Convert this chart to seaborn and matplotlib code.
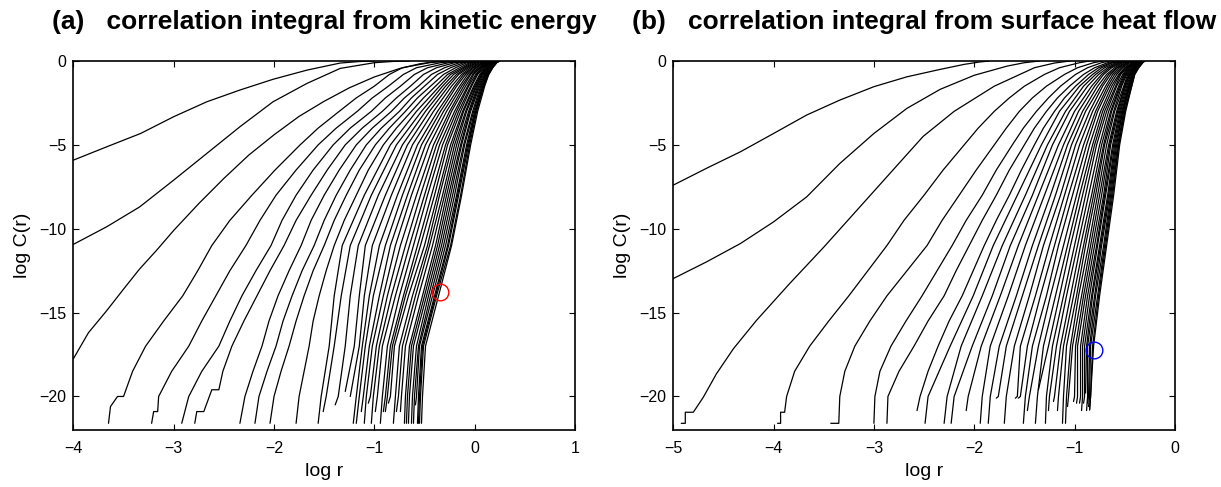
import numpy as np
import pandas as pd
import matplotlib
matplotlib.use("Agg")
import matplotlib.pyplot as plt
import seaborn as sns

nan = np.nan

# log C(r) levels at which the crossing log r of the curves is tabulated
LEVELS = [0.0, -0.1, -0.4, -0.8, -1.5, -2.2, -3.0, -4.0, -5.0, -6.5, -8.0, -9.5,
          -11.0, -12.5, -14.0, -15.5, -17.0, -18.5, -20.0]

# ---------------- (a) kinetic energy, embedding dimensions 1..40 ----------------
ke_at_0 = [-1.00, -0.65, -0.40, -0.25, -0.15, -0.08, -0.03, 0.01, 0.04, 0.07, 0.09,
           0.10, 0.11, 0.12, 0.13, 0.14, 0.15, 0.16, 0.17, 0.18, 0.18, 0.19, 0.19, 0.20, 0.20,
           0.21, 0.21, 0.22, 0.22, 0.22, 0.23, 0.23, 0.23, 0.24, 0.24, 0.24, 0.24, 0.25, 0.25, 0.25]
ke_at_0p1 = [-1.34, -0.95, -0.62, -0.45, -0.34, -0.26, -0.20, -0.15, -0.11, -0.08, -0.05,
             -0.03, -0.01, 0.01, 0.02, 0.04, 0.05, 0.07, 0.08, 0.09, 0.10, 0.11, 0.12, 0.13, 0.14,
             0.15, 0.16, 0.16, 0.17, 0.18, 0.18, 0.19, 0.19, 0.20, 0.20, 0.21, 0.21, 0.21, 0.22, 0.22]
ke_at_0p4 = [-1.60, -1.30, -0.95, -0.72, -0.58, -0.47, -0.38, -0.30, -0.24, -0.19, -0.15,
             -0.12, -0.10, -0.08, -0.06, -0.04, -0.02, -0.01, 0.01, 0.02, 0.04, 0.05, 0.06, 0.07, 0.08,
             0.09, 0.10, 0.11, 0.12, 0.13, 0.13, 0.14, 0.15, 0.15, 0.16, 0.16, 0.17, 0.17, 0.18, 0.18]
ke_at_0p8 = [-1.83, -1.47, -1.08, -0.85, -0.71, -0.60, -0.51, -0.43, -0.37, -0.31, -0.27,
             -0.24, -0.21, -0.18, -0.16, -0.13, -0.11, -0.09, -0.07, -0.05, -0.04, -0.02, -0.01, 0.01, 0.02,
             0.03, 0.05, 0.06, 0.07, 0.07, 0.08, 0.09, 0.10, 0.11, 0.11, 0.12, 0.13, 0.13, 0.14, 0.14]
ke_at_1p5 = [-2.22, -1.72, -1.25, -1.00, -0.86, -0.74, -0.64, -0.56, -0.50, -0.44, -0.39,
             -0.35, -0.32, -0.29, -0.26, -0.23, -0.20, -0.18, -0.15, -0.13, -0.11, -0.09, -0.07, -0.06, -0.04,
             -0.03, -0.01, 0.00, 0.01, 0.02, 0.03, 0.04, 0.05, 0.06, 0.07, 0.08, 0.08, 0.09, 0.09, 0.10]
ke_at_2p2 = [nan, nan, nan, -1.18, -1.02, -0.89, -0.78, -0.70, -0.63, -0.57, -0.51]
ke_at_3 = [-2.88, -2.14, -1.62, -1.35, -1.17, -1.03, -0.92, -0.83, -0.75, -0.69, -0.63,
           -0.58, -0.53, -0.49, -0.45, -0.41, -0.37, -0.34, -0.31, -0.28, -0.25, -0.23, -0.20, -0.18, -0.16,
           -0.14, -0.12, -0.11, -0.09, -0.08, -0.06, -0.05, -0.04, -0.02, -0.01, 0.00, 0.01, 0.01, 0.02, 0.03]
ke_at_4 = [nan, nan, nan, -1.56, -1.38, -1.24, -1.12, -1.02, -0.93, -0.85, -0.78]
ke_at_5 = [-3.62, -2.57, -2.05, -1.74, -1.56, -1.41, -1.29, -1.18, -1.08, -0.99, -0.91,
           -0.84, -0.78, -0.72, -0.67, -0.62, -0.57, -0.53, -0.49, -0.45, -0.41, -0.38, -0.35, -0.32, -0.29,
           -0.27, -0.24, -0.22, -0.20, -0.18, -0.16, -0.14, -0.13, -0.11, -0.10, -0.08, -0.07, -0.06, -0.05, -0.04]
ke_at_6p5 = [nan, nan, nan, -1.99, -1.78, -1.61, -1.47, -1.35, -1.24, -1.15, -1.06]
ke_at_8 = [nan, -3.19, -2.60, -2.22, -1.98, -1.78, -1.63, -1.50, -1.38, -1.28, -1.18,
           -1.10, -1.03, -0.96, -0.89, -0.83, -0.77, -0.72, -0.67, -0.63, -0.58, -0.54, -0.50, -0.47, -0.43,
           -0.40, -0.37, -0.35, -0.32, -0.30, -0.28, -0.26, -0.24, -0.22, -0.20, -0.18, -0.17, -0.16, -0.14, -0.13]
ke_at_9p5 = [nan, nan, nan, -2.44, -2.14, -1.92, -1.78, -1.63, -1.50, -1.40, -1.30]
ke_at_11 = [nan, nan, -3.14, -2.62, -2.28, -2.03, -1.90, -1.73, -1.60, -1.50, -1.40,
            -1.32, -1.24, -1.16, -1.09, -1.02, -0.95, -0.89, -0.84, -0.79, -0.74, -0.69, -0.65, -0.61, -0.57,
            -0.54, -0.50, -0.47, -0.45, -0.42, -0.39, -0.37, -0.35, -0.33, -0.31, -0.29, -0.27, -0.26, -0.24, -0.23]
ke_at_12p5 = [nan, nan, nan, -2.76, -2.44, -2.18, -2.04, -1.85, -1.72, -1.61, -1.48]
ke_at_14 = [nan, nan, -3.42, -2.91, -2.58, -2.32, -2.17, -1.96, -1.82, -1.70, -1.55,
            -1.40, -1.33, -1.24, -1.15, -1.10, -1.05, -1.01, -0.95, -0.91, -0.87, -0.83, -0.79, -0.75, -0.71,
            -0.69, -0.66, -0.62, -0.59, -0.56, -0.52, -0.50, -0.48, -0.46, -0.44, -0.42, -0.40, -0.39, -0.38, -0.36]
ke_at_15p5 = [nan, nan, nan, -3.10, -2.72, -2.44, -2.30, -2.05, -1.91, -1.78, -1.61]
ke_at_17 = [nan, nan, -3.86, -3.28, -2.85, -2.55, -2.42, -2.12, -1.98, -1.85, -1.65,
            -1.45, -1.40, -1.29, -1.20, -1.15, -1.12, -1.09, -1.05, -1.02, -0.98, -0.95, -0.92, -0.87, -0.84,
            -0.82, -0.80, -0.75, -0.72, -0.69, -0.65, -0.63, -0.61, -0.58, -0.56, -0.55, -0.53, -0.52, -0.51, -0.49]
ke_at_18p5 = [nan, nan, nan, -3.41, -3.02, -2.72, -2.51, -2.21, -2.07, -1.93, -1.70]
ke_at_20 = [nan, nan, nan, -3.56, -3.15, -2.85, -2.72, -2.29, -2.15, -2.00, -1.75,
            -1.53, -1.48, -1.36, -1.26, -1.21, -1.18, -1.15, -1.11, -1.08, -1.04, -1.01, -0.97, -0.92, -0.89,
            -0.87, -0.84, -0.79, -0.76, -0.73, -0.69, -0.67, -0.65, -0.62, -0.60, -0.58, -0.56, -0.55, -0.54, -0.52]
# lowest point of each curve
ke_end_x = [-4.00, -4.00, -4.00, -3.65, -3.22, -2.92, -2.79, -2.34, -2.19, -2.04, -1.78,
            -1.56, -1.51, -1.39, -1.29, -1.24, -1.21, -1.18, -1.13, -1.10, -1.06, -1.03, -0.99, -0.94, -0.91,
            -0.89, -0.86, -0.81, -0.78, -0.74, -0.70, -0.68, -0.66, -0.63, -0.61, -0.59, -0.57, -0.56, -0.55, -0.53]
ke_end_y = [-5.91, -10.93, -17.75, -21.6, -21.6, -21.6, -21.6, -21.6, -21.6, -21.6, -21.6,
            -21.6, -20.9, -20.5, -19.7, -20.0, -21.6, -21.6, -20.9, -21.6, -20.4, -21.6, -20.9, -21.6, -20.9,
            -20.9, -20.4, -21.6, -20.9, -20.9, -21.6, -21.6, -21.6, -21.6, -21.6, -20.5, -21.6, -21.6, -21.6, -21.6]
# staircase steps of the sparsely populated low-r tails
ke_steps = {
    3: [(-3.63, -20.6), (-3.56, -20.0), (-3.50, -20.0)],
    4: [(-3.20, -20.9), (-3.16, -20.9)],
    6: [(-2.77, -20.9), (-2.70, -20.9), (-2.62, -19.6), (-2.55, -19.6)],
}
# the lowest dimensions, traced point by point
ke_traced = {
    0: [(-4.00, -5.91), (-3.67, -5.12), (-3.33, -4.32), (-3.00, -3.32), (-2.67, -2.43), (-2.34, -1.73),
        (-2.01, -1.09), (-1.67, -0.54), (-1.34, -0.12), (-1.15, -0.03), (-1.00, 0.00)],
    1: [(-4.00, -10.93), (-3.67, -9.89), (-3.34, -8.70), (-3.00, -7.10), (-2.67, -5.51), (-2.34, -3.92),
        (-2.01, -2.43), (-1.67, -1.33), (-1.34, -0.44), (-1.00, -0.10), (-0.80, -0.02), (-0.65, 0.00)],
    2: [(-4.00, -17.75), (-3.85, -16.20), (-3.67, -14.90), (-3.50, -13.60), (-3.34, -12.40), (-3.17, -11.28),
        (-3.00, -10.10), (-2.75, -8.50), (-2.50, -7.00), (-2.25, -5.60), (-2.00, -4.40), (-1.75, -3.30),
        (-1.50, -2.40), (-1.25, -1.60), (-1.00, -0.95), (-0.75, -0.45), (-0.55, -0.17), (-0.40, -0.04),
        (-0.30, 0.00)],
}
ke_marker = (-0.35, -13.77)

# ---------------- (b) surface heat flow, embedding dimensions 1..40 ----------------
hf_at_0 = [-1.85, -1.35, -1.05, -0.85, -0.72, -0.65, -0.60, -0.57,
           -0.55, -0.53, -0.51, -0.49, -0.48, -0.46, -0.45, -0.44, -0.43, -0.42, -0.41, -0.40, -0.39, -0.38,
           -0.37, -0.36, -0.36, -0.35, -0.35, -0.34, -0.34, -0.33, -0.33, -0.32, -0.32, -0.32, -0.31, -0.31,
           -0.31, -0.30, -0.30, -0.30]
hf_at_0p1 = [-2.10, -1.55, -1.15, -0.95, -0.81, -0.73, -0.67, -0.64,
             -0.62, -0.59, -0.57, -0.55, -0.53, -0.52, -0.50, -0.48, -0.47, -0.46, -0.45, -0.43, -0.42, -0.41,
             -0.41, -0.40, -0.39, -0.38, -0.38, -0.37, -0.36, -0.36, -0.35, -0.35, -0.34, -0.34, -0.34, -0.33,
             -0.33, -0.33, -0.32, -0.32]
hf_at_0p4 = [-2.26, -1.80, -1.40, -1.15, -0.97, -0.87, -0.80, -0.76,
             -0.73, -0.70, -0.67, -0.65, -0.63, -0.60, -0.58, -0.57, -0.55, -0.53, -0.52, -0.50, -0.49, -0.48,
             -0.47, -0.46, -0.45, -0.44, -0.43, -0.42, -0.41, -0.41, -0.40, -0.39, -0.39, -0.38, -0.38, -0.37,
             -0.37, -0.37, -0.36, -0.36]
hf_at_0p8 = [-2.60, -1.98, -1.60, -1.30, -1.10, -0.99, -0.91, -0.86,
             -0.82, -0.79, -0.76, -0.73, -0.71, -0.68, -0.66, -0.64, -0.62, -0.60, -0.58, -0.56, -0.55, -0.54,
             -0.52, -0.51, -0.50, -0.49, -0.48, -0.47, -0.46, -0.45, -0.45, -0.44, -0.43, -0.43, -0.42, -0.42,
             -0.41, -0.41, -0.40, -0.40]
hf_at_1p5 = [-2.99, -2.27, -1.80, -1.50, -1.28, -1.14, -1.05, -0.99,
             -0.95, -0.91, -0.87, -0.83, -0.80, -0.77, -0.74, -0.72, -0.69, -0.67, -0.65, -0.63, -0.61, -0.59,
             -0.58, -0.56, -0.55, -0.54, -0.53, -0.51, -0.50, -0.50, -0.49, -0.48, -0.47, -0.46, -0.46, -0.45,
             -0.45, -0.44, -0.43, -0.43]
hf_at_2p2 = [nan, nan, nan, -1.65, -1.42, -1.26, -1.17, -1.10]
hf_at_3 = [-3.59, -2.71, -2.20, -1.80, -1.55, -1.38, -1.28, -1.20,
           -1.15, -1.09, -1.05, -1.00, -0.96, -0.92, -0.89, -0.85, -0.82, -0.79, -0.77, -0.74, -0.72, -0.70,
           -0.68, -0.66, -0.64, -0.63, -0.61, -0.60, -0.58, -0.57, -0.56, -0.55, -0.54, -0.53, -0.52, -0.52,
           -0.51, -0.50, -0.50, -0.49]
hf_at_4 = [nan, nan, nan, -1.96, -1.68, -1.51, -1.40, -1.31]
hf_at_5 = [-4.21, -3.13, -2.55, -2.10, -1.80, -1.62, -1.50, -1.40,
           -1.33, -1.27, -1.22, -1.16, -1.11, -1.07, -1.03, -0.99, -0.95, -0.91, -0.88, -0.85, -0.82, -0.80,
           -0.78, -0.75, -0.73, -0.71, -0.70, -0.68, -0.66, -0.65, -0.64, -0.62, -0.61, -0.60, -0.59, -0.58,
           -0.57, -0.56, -0.56, -0.55]
hf_at_6p5 = [nan, nan, nan, -2.31, -1.98, -1.78, -1.65, -1.53]
hf_at_8 = [nan, -3.65, -3.05, -2.50, -2.15, -1.92, -1.78, -1.65,
           -1.57, -1.49, -1.42, -1.36, -1.30, -1.24, -1.19, -1.14, -1.10, -1.06, -1.02, -0.98, -0.95, -0.92,
           -0.89, -0.86, -0.83, -0.81, -0.79, -0.77, -0.75, -0.73, -0.71, -0.70, -0.69, -0.67, -0.66, -0.65,
           -0.64, -0.63, -0.62, -0.61]
hf_at_9p5 = [nan, nan, nan, -2.70, -2.32, -2.08, -1.92, -1.78]
hf_at_11 = [nan, -4.37, -3.49, -2.87, -2.47, -2.22, -2.05, -1.90,
            -1.81, -1.72, -1.64, -1.56, -1.49, -1.42, -1.36, -1.31, -1.25, -1.20, -1.16, -1.11, -1.07, -1.04,
            -1.00, -0.97, -0.94, -0.91, -0.89, -0.86, -0.84, -0.82, -0.80, -0.78, -0.77, -0.75, -0.74, -0.73,
            -0.71, -0.70, -0.69, -0.68]
hf_at_12p5 = [nan, nan, nan, -3.06, -2.67, -2.37, -2.18, -2.01]
hf_at_14 = [nan, nan, -3.95, -3.25, -2.87, -2.52, -2.30, -2.12,
            -2.01, -1.92, -1.82, -1.74, -1.66, -1.58, -1.52, -1.45, -1.39, -1.34, -1.28, -1.24, -1.19, -1.15,
            -1.11, -1.08, -1.04, -1.01, -0.98, -0.96, -0.93, -0.91, -0.89, -0.87, -0.85, -0.83, -0.82, -0.80,
            -0.79, -0.77, -0.76, -0.75]
hf_at_15p5 = [nan, nan, nan, -3.45, -3.04, -2.68, -2.46, -2.25]
hf_at_17 = [nan, nan, -4.38, -3.64, -3.19, -2.83, -2.60, -2.36,
            -2.24, -2.13, -2.02, -1.93, -1.84, -1.75, -1.68, -1.60, -1.54, -1.47, -1.42, -1.36, -1.31, -1.26,
            -1.22, -1.18, -1.14, -1.11, -1.08, -1.04, -1.02, -0.99, -0.97, -0.94, -0.92, -0.90, -0.88, -0.87,
            -0.85, -0.84, -0.82, -0.81]
hf_at_18p5 = [nan, nan, nan, -3.79, -3.29, -2.94, -2.75, -2.46]
hf_at_20 = [nan, nan, -4.70, -3.87, -3.34, -2.99, -2.86, -2.54,
            -2.46, -2.27, -2.20, -2.06, -1.92, -1.84, -1.76, -1.68, -1.57, -1.54, -1.49, -1.45, -1.37, -1.35,
            -1.28, -1.25, -1.20, -1.16, -1.11, -1.08, -1.06, -1.00, -0.97, -0.94, -0.92, -0.90, -0.88, -0.87,
            -0.86, -0.85, -0.84, -0.84]
hf_end_x = [-5.00, -5.00, -4.92, -3.96, -3.43, -3.00, -2.87, -2.57,
            -2.49, -2.30, -2.23, -2.08, -1.94, -1.86, -1.78, -1.70, -1.59, -1.56, -1.51, -1.47, -1.39, -1.36,
            -1.29, -1.26, -1.21, -1.17, -1.12, -1.09, -1.07, -1.01, -0.98, -0.95, -0.93, -0.91, -0.89, -0.88,
            -0.87, -0.86, -0.85, -0.85]
hf_end_y = [-7.40, -12.97, -21.6, -21.6, -21.6, -21.6, -21.6, -20.84,
            -21.6, -21.6, -21.6, -20.84, -21.6, -21.6, -20.1, -21.6, -20.1, -20.1, -21.6, -20.84, -21.6, -19.6,
            -21.6, -20.84, -20.3, -20.84, -21.6, -21.6, -20.6, -20.3, -20.4, -20.4, -20.84, -20.4, -19.8, -20.84,
            -20.4, -20.6, -20.8, -20.8]
hf_steps = {
    3: [(-3.93, -21.6), (-3.93, -20.94), (-3.89, -20.94)],
    4: [(-3.35, -21.6)],
}
hf_traced = {
    0: [(-5.00, -7.40), (-4.67, -6.40), (-4.33, -5.41), (-4.00, -4.32), (-3.67, -3.22), (-3.34, -2.33),
        (-3.00, -1.53), (-2.67, -0.94), (-2.34, -0.50), (-2.10, -0.20), (-1.95, -0.06), (-1.85, 0.00)],
    1: [(-5.00, -12.97), (-4.67, -11.98), (-4.33, -10.88), (-4.00, -9.59), (-3.67, -8.10), (-3.34, -6.11),
        (-3.00, -4.32), (-2.67, -2.82), (-2.34, -1.69), (-2.00, -0.85), (-1.67, -0.30), (-1.50, -0.10),
        (-1.35, 0.00)],
    2: [(-4.92, -21.60), (-4.88, -21.60), (-4.88, -20.94), (-4.80, -20.94), (-4.70, -20.04), (-4.57, -18.65),
        (-4.40, -17.15), (-4.17, -15.46), (-3.84, -13.27), (-3.50, -11.10), (-3.17, -8.90), (-2.84, -6.70),
        (-2.51, -4.50), (-2.20, -3.00), (-1.80, -1.50), (-1.40, -0.40), (-1.20, -0.12), (-1.05, 0.00)],
}
hf_marker = (-0.81, -17.2)


def curve_table(crossings, end_x, end_y, steps, traced):
    """Long-form table: one polyline per embedding dimension, from its lowest point upward."""
    rows = []
    for i in range(len(end_x)):
        if i in traced:
            pts = list(traced[i])
        else:
            pts = [(end_x[i], end_y[i])] + steps.get(i, [])
            floor = pts[-1][1]
            for lev, xs in zip(LEVELS[::-1], crossings[::-1]):
                if lev > floor and i < len(xs) and not np.isnan(xs[i]):
                    pts.append((xs[i], lev))
        for k, (x, y) in enumerate(pts):
            rows.append({"dim": i + 1, "k": k, "log r": x, "log C(r)": y})
    return pd.DataFrame(rows)


ke_df = curve_table([ke_at_0, ke_at_0p1, ke_at_0p4, ke_at_0p8, ke_at_1p5, ke_at_2p2, ke_at_3, ke_at_4,
                     ke_at_5, ke_at_6p5, ke_at_8, ke_at_9p5, ke_at_11, ke_at_12p5, ke_at_14, ke_at_15p5,
                     ke_at_17, ke_at_18p5, ke_at_20], ke_end_x, ke_end_y, ke_steps, ke_traced)
hf_df = curve_table([hf_at_0, hf_at_0p1, hf_at_0p4, hf_at_0p8, hf_at_1p5, hf_at_2p2, hf_at_3, hf_at_4,
                     hf_at_5, hf_at_6p5, hf_at_8, hf_at_9p5, hf_at_11, hf_at_12p5, hf_at_14, hf_at_15p5,
                     hf_at_17, hf_at_18p5, hf_at_20], hf_end_x, hf_end_y, hf_steps, hf_traced)

sns.set_style("ticks")
plt.rcParams["font.family"] = ["Liberation Sans", "DejaVu Sans"]
plt.rcParams["text.color"] = "black"
plt.rcParams["axes.labelcolor"] = "black"

fig = plt.figure(figsize=(12.21, 4.87), dpi=100)
ax_a = fig.add_axes([0.0601, 0.117, 0.4108, 0.7577])
ax_b = fig.add_axes([0.5514, 0.117, 0.4108, 0.7577])

panels = [
    (ax_a, ke_df, ke_marker, "red", (-4, 1), "(a)   correlation integral from kinetic energy"),
    (ax_b, hf_df, hf_marker, "blue", (-5, 0), "(b)   correlation integral from surface heat flow"),
]

for ax, df, marker, mcol, xlim, title in panels:
    sns.lineplot(data=df, x="log r", y="log C(r)", units="dim", estimator=None, sort=False,
                 color="black", linewidth=0.9, legend=False, ax=ax)
    ax.plot([marker[0]], [marker[1]], "o", mfc="none", mec=mcol, ms=12, mew=1.0)
    ax.set_xlim(*xlim)
    ax.set_ylim(-22, 0)
    ax.set_xticks(np.arange(xlim[0], xlim[1] + 1, 1))
    ax.set_yticks([0, -5, -10, -15, -20])
    ax.tick_params(direction="in", top=True, right=True, length=4, width=0.8,
                   labelsize=11.5, colors="black")
    ax.tick_params(axis="x", pad=8)
    ax.tick_params(axis="y", pad=5)
    for s in ax.spines.values():
        s.set_linewidth(1.2)
        s.set_color("black")
    ax.set_xlabel("log r", fontsize=14, labelpad=5, color="black")
    ax.set_ylabel("log C(r)", fontsize=14, labelpad=6, color="black")
    ax.set_title(title, fontsize=19, fontweight="bold", pad=23, color="black")

fig.savefig("out.png", dpi=100, facecolor="white")
